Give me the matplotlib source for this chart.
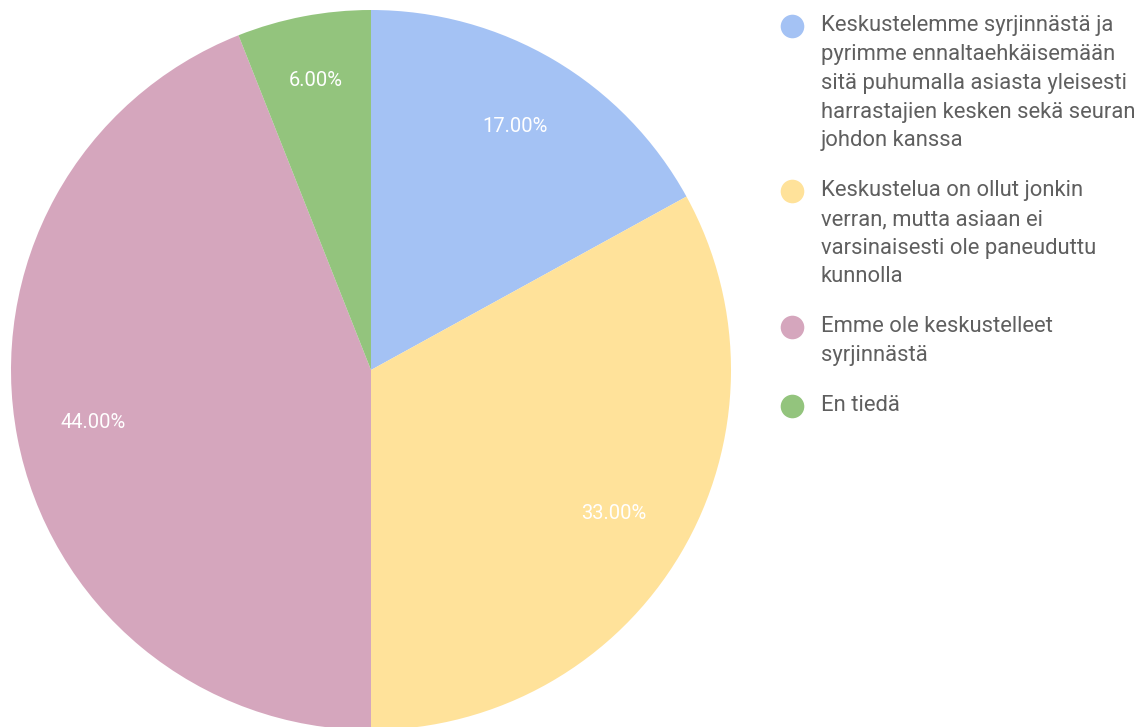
import matplotlib
matplotlib.use("Agg")
import matplotlib.pyplot as plt

categories = [
    "Keskustelemme syrjinnästä ja\npyrimme ennaltaehkäisemään\nsitä puhumalla asiasta yleisesti\nharrastajien kesken sekä seuran\njohdon kanssa",
    "Keskustelua on ollut jonkin\nverran, mutta asiaan ei\nvarsinaisesti ole paneuduttu\nkunnolla",
    "Emme ole keskustelleet\nsyrjinnästä",
    "En tiedä",
]
values = [17.0, 33.0, 44.0, 6.0]
colors = ["#a4c2f4", "#ffe29a", "#d5a6bd", "#93c47d"]

plt.rcParams['font.family'] = ['Roboto', 'DejaVu Sans']

W, H = 1142, 727
fig = plt.figure(figsize=(W / 100, H / 100), dpi=100)

cx, cy, r = 371, 370, 360
ax = fig.add_axes([(cx - r) / W, (H - cy - r) / H, 2 * r / W, 2 * r / H])
wedges, texts, autotexts = ax.pie(
    values, colors=colors, startangle=90, counterclock=False,
    autopct=lambda p: f"{p:.2f}%", pctdistance=0.785,
    wedgeprops=dict(linewidth=0),
    textprops=dict(color="white", fontsize=14.5),
)
# smallest slice label sits a bit further out
x0, y0 = autotexts[3].get_position()
autotexts[3].set_position((x0 * 0.82 / 0.785, y0 * 0.82 / 0.785))
ax.set_xlim(-1, 1)
ax.set_ylim(-1, 1)
ax.set_aspect('equal')
ax.axis('off')

# legend drawn manually
lx_marker, lx_text = 792, 821
y = 26
line_h = 28.7
gap = 50 - line_h
for label, col in zip(categories, colors):
    fig.add_artist(plt.Line2D([lx_marker / W], [1 - y / H], marker='o', markersize=17,
                              color=col, markeredgewidth=0, transform=fig.transFigure))
    for i, line in enumerate(label.split("\n")):
        fig.text(lx_text / W, 1 - (y + i * line_h) / H, line, fontsize=15.8,
                 color="#5f5f5f", va='center', ha='left')
    y += len(label.split("\n")) * line_h + gap

fig.savefig("out.png", dpi=100)
